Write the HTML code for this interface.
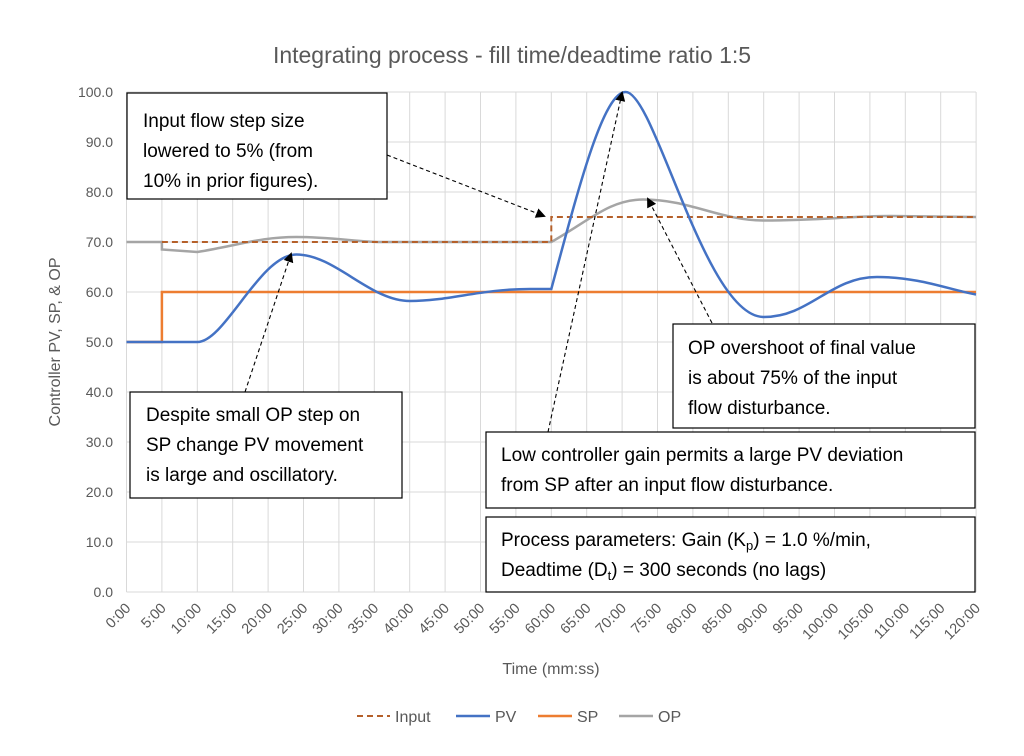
<!DOCTYPE html>
<html><head><meta charset="utf-8"><style>
body{margin:0;background:#fff;}
svg{display:block;font-family:"Liberation Sans",sans-serif;}
.box{fill:#fff;stroke:#000;stroke-width:1.2}
.bt{font-size:19px;fill:#000}
.yl{font-size:14px;fill:#595959;text-anchor:end}
.xl{font-size:14.5px;fill:#595959;text-anchor:end}
</style></head><body>
<svg width="1024" height="756" viewBox="0 0 1024 756">
<defs><marker id="ah" markerWidth="10" markerHeight="10" refX="8" refY="5" orient="auto" markerUnits="userSpaceOnUse"><path d="M0,0 L10,5 L0,10 z" fill="#000"/></marker></defs>
<text x="512" y="63" text-anchor="middle" font-size="23" fill="#595959">Integrating process - fill time/deadtime ratio 1:5</text>
<g id="grid" stroke="#d9d9d9" stroke-width="1"></g>
<g id="lab"></g>
<text transform="translate(60,342) rotate(-90)" text-anchor="middle" font-size="16" fill="#595959">Controller PV, SP, &amp; OP</text>
<text x="551" y="674" text-anchor="middle" font-size="16" fill="#595959">Time (mm:ss)</text>
<path d="M126.5,342 L161.9,342 L161.9,292 L976,292" fill="none" stroke="#ed7d31" stroke-width="2.5"/>
<path d="M126.5,242 L161.9,242 L161.9,249.5 L197.3,252 C240,245 260,237 296.4,237 C330,237 360,242 380,242 L551.3,242 C590,220 610,199.5 643.3,199.5 C690,199.5 720,220.5 763.7,220.5 C820,220.5 850,216 891,216 L976,217" fill="none" stroke="#a5a5a5" stroke-width="2.5"/>
<path d="M161.9,242 L551.3,242 L551.3,217 L976,217" fill="none" stroke="#b5602a" stroke-width="2" stroke-dasharray="6,4"/>
<path d="M126.5,342 L197.3,342 C225,342 260,254.5 296.4,254.5 C335,254.5 370,301 409.7,301 C450,301 480,289 530,289 L551.3,289 C578,190 603,92 625.6,92 C655,92 705,317 763.7,317 C810,317 830,277 877,277 C920,277 950,290 976,294.5" fill="none" stroke="#4472c4" stroke-width="2.5"/>
<g stroke="#000" stroke-width="1.1" stroke-dasharray="4,3" fill="none">
<line x1="387" y1="155" x2="544" y2="216" marker-end="url(#ah)"/>
<line x1="245" y1="392" x2="291" y2="254" marker-end="url(#ah)"/>
<line x1="548" y1="432" x2="622" y2="93" marker-end="url(#ah)"/>
<line x1="712" y1="323" x2="648" y2="199" marker-end="url(#ah)"/>
</g>
<rect class="box" x="127" y="93" width="260" height="106"/>
<text class="bt" x="143" y="127">Input flow step size</text>
<text class="bt" x="143" y="157">lowered to 5% (from</text>
<text class="bt" x="143" y="187">10% in prior figures).</text>
<rect class="box" x="130" y="392" width="272" height="106"/>
<text class="bt" x="146" y="421">Despite small OP step on</text>
<text class="bt" x="146" y="451">SP change PV movement</text>
<text class="bt" x="146" y="481">is large and oscillatory.</text>
<rect class="box" x="673" y="324" width="302" height="104"/>
<text class="bt" x="688" y="354">OP overshoot of final value</text>
<text class="bt" x="688" y="384">is about 75% of the input</text>
<text class="bt" x="688" y="414">flow disturbance.</text>
<rect class="box" x="486" y="432" width="489" height="76"/>
<text class="bt" x="501" y="461">Low controller gain permits a large PV deviation</text>
<text class="bt" x="501" y="491">from SP after an input flow disturbance.</text>
<rect class="box" x="486" y="517" width="489" height="75"/>
<text class="bt" x="501" y="546">Process parameters:  Gain (K<tspan font-size="13" dy="4">p</tspan><tspan dy="-4">) = 1.0 %/min,</tspan></text>
<text class="bt" x="501" y="576">Deadtime (D<tspan font-size="13" dy="4">t</tspan><tspan dy="-4">) = 300 seconds  (no lags)</tspan></text>
<g font-size="16" fill="#595959">
<line x1="357" y1="716" x2="390" y2="716" stroke="#b5602a" stroke-width="2" stroke-dasharray="6,4"/>
<text x="395" y="722">Input</text>
<line x1="456" y1="716" x2="490" y2="716" stroke="#4472c4" stroke-width="2.5"/>
<text x="495" y="722">PV</text>
<line x1="538" y1="716" x2="572" y2="716" stroke="#ed7d31" stroke-width="2.5"/>
<text x="577" y="722">SP</text>
<line x1="619" y1="716" x2="653" y2="716" stroke="#a5a5a5" stroke-width="2.5"/>
<text x="658" y="722">OP</text>
</g>
<script>
var g=document.getElementById('grid'),l=document.getElementById('lab'),ns='http://www.w3.org/2000/svg';
function el(p,t,a,txt){var e=document.createElementNS(ns,t);for(var k in a)e.setAttribute(k,a[k]);if(txt)e.textContent=txt;p.appendChild(e);}
for(var i=0;i<=10;i++){var y=592-i*50;el(g,'line',{x1:126.5,x2:976,y1:y,y2:y});el(l,'text',{x:113,y:y+5,'class':'yl'},(i*10).toFixed(1));}
for(var j=0;j<=24;j++){var x=126.5+j*35.4;el(g,'line',{x1:x,x2:x,y1:92,y2:592});el(l,'text',{x:x+5,y:609,'class':'xl',transform:'rotate(-45 '+(x+5)+' 609)'},(j*5)+':00');}
</script>
</svg>
</body></html>
